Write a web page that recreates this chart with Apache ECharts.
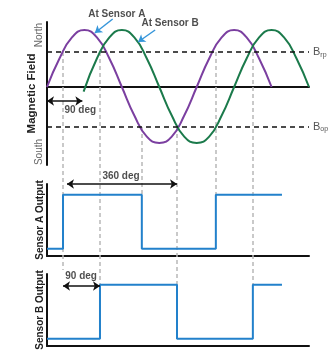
<!DOCTYPE html>
<html><head><meta charset="utf-8">
<script src="https://cdn.jsdelivr.net/npm/echarts@6/dist/echarts.min.js"></script>
<style>html,body{margin:0;padding:0;background:#fff}#c{width:333px;height:357px}</style>
</head><body><div id="c"></div>
<script>
// ---- data (angles in degrees of rotation) ----
const fieldADeg = [0,30,60,90,120,150,180,210,240,270,300,330,360,390,420,450,480,510,540];
const fieldAVal = [0,0.5,0.87,1,0.87,0.5,0,-0.5,-0.87,-0.98,-0.87,-0.5,0,0.5,0.87,1,0.87,0.5,0];
const fieldBDeg = [88,120,150,180,210,240,270,300,330,360,390,420,450,480,510,540,570,600,630];
const fieldBVal = [-0.08,0.5,0.87,1,0.87,0.5,0,-0.5,-0.87,-0.98,-0.87,-0.5,0,0.5,0.87,1,0.87,0.5,0];
const bRp = 0.614;
const bOp = -0.70;
const fieldTickPos = [0.91, -1.14];
const fieldTickText = ['North', 'South'];
const sensorADeg = [0, 38.5, 228, 406, 565];
const sensorALevel = [0.1, 0.85, 0.1, 0.85, 0.85];
const sensorBDeg = [0, 127.4, 312.6, 495, 565];
const sensorBLevel = [0.1, 0.85, 0.1, 0.85, 0.85];
// switching guide lines: angle, top and bottom on the page-height overlay scale
const guideDeg = [38.5, 127.4, 228, 312.6, 406, 495];
const guideTop = [52, 52, 127, 127, 52, 52];
const guideBottom = [270, 285, 195, 285, 195, 285];
// annotations
const spanLabels = ['90 deg', '360 deg', '90 deg'];
const spanFrom = [0, 48, 38.5];
const spanTo = [85, 312.6, 127.4];
const spanY = [101, 184, 286];
const spanTextDeg = [80, 178, 82];
const spanTextY = [110, 176, 276];
const pointerLabels = ['At Sensor A', 'At Sensor B'];
const pointerTextDeg = [168, 296];
const pointerTextY = [14, 23];
const pointerFrom = [[158, 19], [260, 30]];
const pointerTo = [[115, 33], [219, 42]];

const FONT = "'Liberation Sans', Arial, sans-serif";
const PURPLE = '#7b3fa0', GREEN = '#1b7a4b', BLUE = '#2281cb', ARROW = '#3696da';
const L = 47, W = 262, XMAX = 630;

const hideX = (i, showLine) => ({
  type: 'value', gridIndex: i, min: 0, max: XMAX,
  axisLine: {show: showLine, onZero: true, lineStyle: {color: '#111', width: 2}},
  axisTick: {show: false}, axisLabel: {show: false}, splitLine: {show: false}
});

const chart = echarts.init(document.getElementById('c'), null, {renderer: 'canvas'});
chart.setOption({
  animation: false,
  backgroundColor: '#fff',
  grid: [
    {left: L, width: W, top: 22, height: 143},
    {left: L, width: W, top: 184, height: 72},
    {left: L, width: W, top: 274, height: 72},
    {left: L, width: W, top: 0, height: 357}
  ],
  xAxis: [hideX(0, true), hideX(1, true), hideX(2, true), hideX(3, false)],
  yAxis: [
    {type: 'value', gridIndex: 0, min: -1.368, max: 1.14,
      axisLine: {show: true, lineStyle: {color: '#111', width: 2}},
      axisTick: {show: false}, splitLine: {show: false},
      axisLabel: {show: true, customValues: fieldTickPos, rotate: 90, margin: 3,
        fontFamily: FONT, fontSize: 10, color: '#666',
        formatter: v => fieldTickText[fieldTickPos.indexOf(v)] || ''},
      name: 'Magnetic Field', nameLocation: 'middle', nameGap: 9, nameMoveOverlap: false,
      nameTextStyle: {fontFamily: FONT, fontWeight: 'bold', fontSize: 11.5, color: '#222'}},
    {type: 'value', gridIndex: 1, min: 0, max: 1,
      axisLine: {show: true, lineStyle: {color: '#111', width: 2}},
      axisTick: {show: false}, axisLabel: {show: false}, splitLine: {show: false},
      name: 'Sensor A Output', nameLocation: 'middle', nameGap: 1.5, nameMoveOverlap: false,
      nameTextStyle: {fontFamily: FONT, fontWeight: 'bold', fontSize: 10, color: '#222'}},
    {type: 'value', gridIndex: 2, min: 0, max: 1,
      axisLine: {show: true, lineStyle: {color: '#111', width: 2}},
      axisTick: {show: false}, axisLabel: {show: false}, splitLine: {show: false},
      name: 'Sensor B Output', nameLocation: 'middle', nameGap: 1.5, nameMoveOverlap: false,
      nameTextStyle: {fontFamily: FONT, fontWeight: 'bold', fontSize: 10, color: '#222'}},
    {type: 'value', gridIndex: 3, min: 0, max: 357, inverse: true, show: false}
  ],
  series: [
    {type: 'lines', coordinateSystem: 'cartesian2d', xAxisIndex: 3, yAxisIndex: 3, z: 1,
      symbol: ['none', 'none'],
      lineStyle: {color: '#b8b8b8', width: 1.5, type: [4, 3], opacity: 1},
      data: guideDeg.map((d, i) => ({coords: [[d, guideTop[i]], [d, guideBottom[i]]]}))},
    {type: 'line', xAxisIndex: 0, yAxisIndex: 0, smooth: true, symbol: 'none', z: 3,
      lineStyle: {color: PURPLE, width: 2},
      data: fieldADeg.map((d, i) => [d, fieldAVal[i]]),
      markLine: {silent: true, symbol: ['none', 'none'],
        lineStyle: {color: '#111', width: 1.5, type: [5, 4]},
        label: {show: true, position: 'end', distance: 4,
          formatter: p => p.dataIndex === 0 ? '{b|B}{s|rp}' : '{b|B}{s|op}',
          rich: {b: {fontFamily: FONT, fontSize: 11, color: '#555', lineHeight: 12},
                 s: {fontFamily: FONT, fontSize: 7, color: '#555', verticalAlign: 'bottom', lineHeight: 8, padding: [3, 0, 0, 0]}}},
        data: [{yAxis: bRp}, {yAxis: bOp}]}},
    {type: 'line', xAxisIndex: 0, yAxisIndex: 0, smooth: true, symbol: 'none', z: 3,
      lineStyle: {color: GREEN, width: 2},
      data: fieldBDeg.map((d, i) => [d, fieldBVal[i]])},
    {type: 'line', xAxisIndex: 1, yAxisIndex: 1, step: 'end', symbol: 'none', z: 3,
      lineStyle: {color: BLUE, width: 2},
      data: sensorADeg.map((d, i) => [d, sensorALevel[i]])},
    {type: 'line', xAxisIndex: 2, yAxisIndex: 2, step: 'end', symbol: 'none', z: 3,
      lineStyle: {color: BLUE, width: 2},
      data: sensorBDeg.map((d, i) => [d, sensorBLevel[i]])},
    {type: 'lines', coordinateSystem: 'cartesian2d', xAxisIndex: 3, yAxisIndex: 3, z: 4,
      symbol: ['arrow', 'arrow'], symbolSize: 7,
      lineStyle: {color: '#111', width: 1.5, opacity: 1},
      data: spanFrom.map((f, i) => ({coords: [[f, spanY[i]], [spanTo[i], spanY[i]]]}))},
    {type: 'lines', coordinateSystem: 'cartesian2d', xAxisIndex: 3, yAxisIndex: 3, z: 4,
      symbol: ['none', 'arrow'], symbolSize: 7,
      lineStyle: {color: ARROW, width: 1.5, opacity: 1},
      data: pointerFrom.map((f, i) => ({coords: [f, pointerTo[i]]}))},
    {type: 'scatter', xAxisIndex: 3, yAxisIndex: 3, z: 5, symbolSize: 1, clip: false,
      itemStyle: {color: 'rgba(0,0,0,0)'},
      label: {show: true, position: 'inside', formatter: p => p.name,
        fontFamily: FONT, fontWeight: 'bold', fontSize: 10, color: '#222'},
      data: spanLabels.map((t, i) => ({name: t, value: [spanTextDeg[i], spanTextY[i]]}))
        .concat(pointerLabels.map((t, i) => ({name: t, value: [pointerTextDeg[i], pointerTextY[i]]})))}
  ]
});
</script></body></html>
